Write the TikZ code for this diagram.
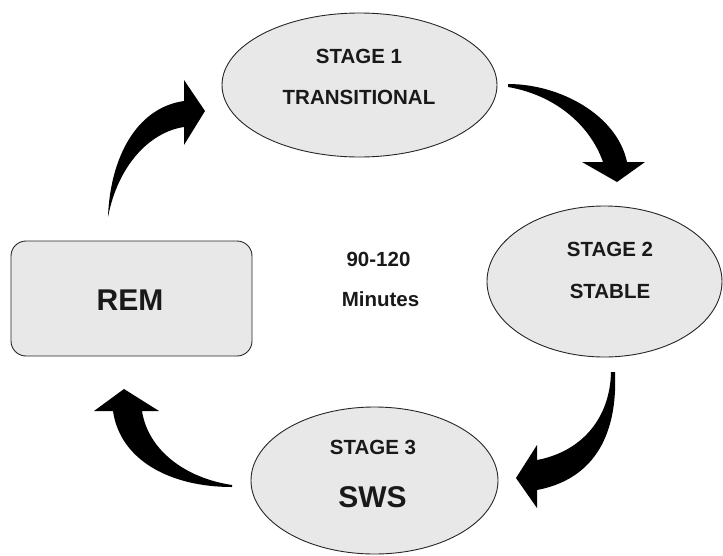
\documentclass[tikz,border=0pt]{standalone}
\usepackage{fontspec}
\setmainfont{Liberation Sans}
\usetikzlibrary{shapes.geometric}
\begin{document}
\begin{tikzpicture}[x=1pt,y=-1pt,
  stagebox/.style={ellipse, draw=black!85, line width=0.9pt, fill=black!9, inner sep=0pt},
  rembox/.style={rectangle, rounded corners=15pt, draw=black!85, line width=0.9pt, fill=black!9, inner sep=0pt},
  lbl/.style={font=\bfseries\fontsize{20.5}{24}\selectfont, inner sep=0pt, text height=14.7pt, text depth=0pt, text=black!90},
  biglbl/.style={font=\bfseries\fontsize{30}{36}\selectfont, inner sep=0pt, text height=21.5pt, text depth=0pt, text=black!90},
  blockarrow/.style={fill=black, draw=none}]
\useasboundingbox (0,0) rectangle (723,555);

% the four stages of the cycle
\node[stagebox, minimum width=275pt, minimum height=144pt] (s1) at (359.5,85) {};
\node[stagebox, minimum width=235pt, minimum height=151pt] (s2) at (604.5,281.5) {};
\node[stagebox, minimum width=247pt, minimum height=147pt] (s3) at (374.5,480.5) {};
\node[rembox, minimum width=241pt, minimum height=115pt] (rem) at (131.5,298.5) {};

% labels
\node[lbl] (s1a) at (359,56) {STAGE 1};
\node[lbl] (s1b) at (359,97) {TRANSITIONAL};
\node[lbl] (s2a) at (610,249) {STAGE 2};
\node[lbl] (s2b) at (610,291) {STABLE};
\node[lbl] (s3a) at (373,447.5) {STAGE 3};
\node[biglbl] (s3b) at (372.5,496.5) {SWS};
\node[biglbl] (remt) at (130,300) {REM};
\node[lbl] (dur) at (378.5,259) {90-120};
\node[lbl] (unit) at (380.5,299.5) {Minutes};

% curved block arrows
% REM -> stage 1
\fill[blockarrow] (108,217) .. controls (110,160) and (135,108) .. (184,101)
  -- (184,80) -- (205,111) -- (184,145) -- (184,127)
  .. controls (150,132) and (118,165) .. (108,217) -- cycle;
% stage 1 -> stage 2
\fill[blockarrow] (508,84) .. controls (560,84) and (617,115) .. (627,162)
  -- (645,162) -- (617,182) -- (582,162) -- (603,162)
  .. controls (590,125) and (555,95) .. (508,87) -- cycle;
% stage 2 -> stage 3
\fill[blockarrow] (615,372) .. controls (618,440) and (590,480) .. (537,490)
  -- (537,508) -- (516,478) -- (537,445) -- (537,460)
  .. controls (580,452) and (610,420) .. (611,372) -- cycle;
% stage 3 -> REM
\fill[blockarrow] (232,487) .. controls (170,487) and (120,460) .. (113,411)
  -- (94,411) -- (124,389) -- (159,411) -- (142,411)
  .. controls (148,450) and (185,478) .. (232,485) -- cycle;
\end{tikzpicture}
\end{document}
